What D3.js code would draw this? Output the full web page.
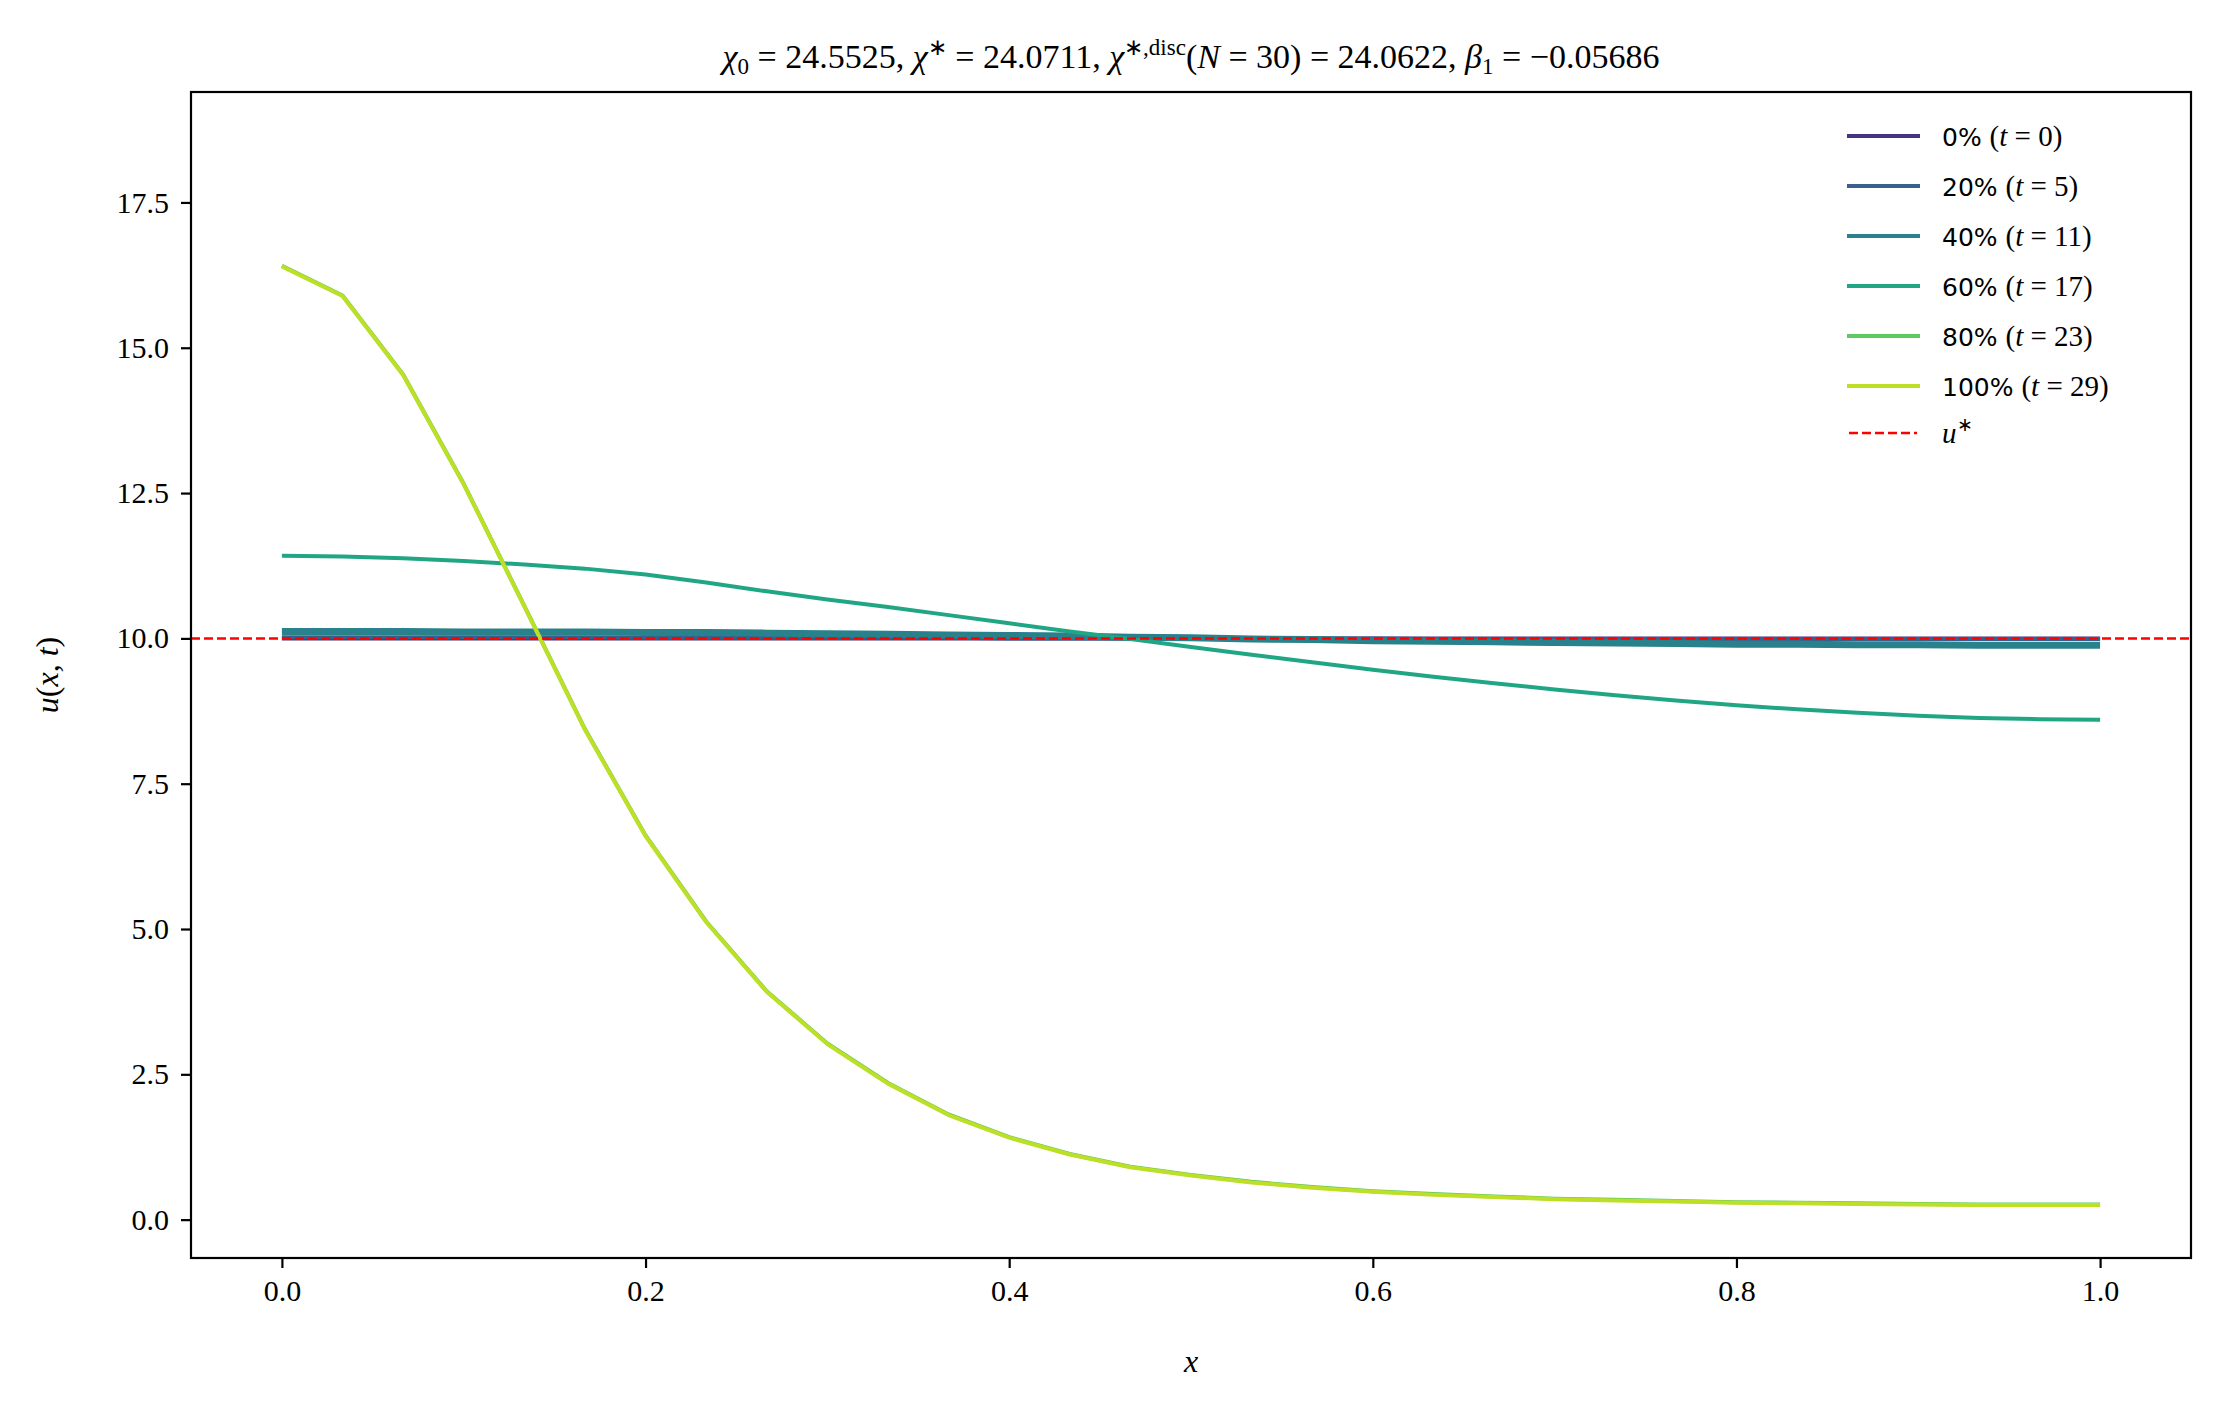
<!DOCTYPE html>
<html><head><meta charset="utf-8">
<script src="https://cdn.jsdelivr.net/npm/d3@7"></script>
<style>body{margin:0;background:#fff}text{font-family:"Liberation Serif",serif}</style>
</head><body>
<svg id="chart" width="2220" height="1409"></svg>
<script>
"use strict";

// sample points x = k/30
let xs = d3.range(31).map(k => k / 30);

let u0 = [10,10,10,10,10,10,10,10,10,10,10,10,10,10,10,10,10,10,10,10,10,10,10,10,10,10,10,10,10,10,10];
let u20 = [10.02,10.02,10.02,10.02,10.02,10.02,10.01,10.01,10.01,10.01,10.01,10.01,10.0,10.0,10.0,10.0,10.0,10.0,10.0,9.99,9.99,9.99,9.99,9.99,9.99,9.99,9.99,9.99,9.99,9.99,9.99];
let u40 = [10.12,10.12,10.12,10.11,10.11,10.11,10.10,10.10,10.09,10.08,10.07,10.06,10.05,10.04,10.02,10.01,9.99,9.98,9.96,9.95,9.94,9.93,9.92,9.91,9.90,9.90,9.89,9.89,9.88,9.88,9.88];
let u60 = [11.42,11.41,11.38,11.33,11.27,11.20,11.10,10.96,10.81,10.67,10.54,10.40,10.26,10.12,9.99,9.85,9.72,9.59,9.46,9.34,9.23,9.12,9.02,8.93,8.85,8.78,8.72,8.67,8.63,8.61,8.60];
let u100 = [16.40,15.89,14.53,12.65,10.55,8.43,6.60,5.12,3.92,3.02,2.34,1.80,1.41,1.12,0.90,0.76,0.64,0.55,0.48,0.43,0.39,0.35,0.33,0.31,0.29,0.28,0.27,0.26,0.25,0.25,0.25];
let u80 = u100.map(v => v + 0.01);

let seriesNames = ["0%", "20%", "40%", "60%", "80%", "100%"];
let seriesT = [0, 5, 11, 17, 23, 29];
let seriesVals = [u0, u20, u40, u60, u80, u100];
let colors = ["#46337f", "#38608d", "#28818b", "#21a685", "#5ec962", "#bddf26"];
let widths = [4, 4, 7, 4, 4, 4];
let uStar = 10;

let xTicks = [0, 0.2, 0.4, 0.6, 0.8, 1.0];
let yTicks = [0, 2.5, 5, 7.5, 10, 12.5, 15, 17.5];

const svg = d3.select("#chart");
const L = 191, R = 2191, T = 92, B = 1258;

let x = d3.scaleLinear().domain([-0.05, 1.05]).range([L, R]);
let y = d3.scaleLinear().domain([-0.66, 19.4]).range([B, T]);

svg.append("g").attr("transform", `translate(0,${B})`)
    .call(d3.axisBottom(x).tickValues(xTicks).tickFormat(d3.format(".1f")).tickSize(10).tickPadding(12))
    .call(g => g.selectAll("text").attr("font-size", 30).attr("font-family", "Liberation Serif"));
svg.append("g").attr("transform", `translate(${L},0)`)
    .call(d3.axisLeft(y).tickValues(yTicks).tickFormat(d3.format(".1f")).tickSize(10).tickPadding(12))
    .call(g => g.selectAll("text").attr("font-size", 30).attr("font-family", "Liberation Serif"));
svg.selectAll(".domain").remove();
svg.selectAll(".tick line").attr("stroke-width", 2.2);

svg.append("clipPath").attr("id", "clip").append("rect")
    .attr("x", L).attr("y", T).attr("width", R - L).attr("height", B - T);

let line = d3.line().x((d, i) => x(xs[i])).y(d => y(d));
let plot = svg.append("g").attr("clip-path", "url(#clip)");
seriesVals.forEach((vals, i) => {
    plot.append("path").datum(vals).attr("d", line).attr("fill", "none")
        .attr("stroke", colors[i]).attr("stroke-width", widths[i]).attr("stroke-linejoin", "round");
});
plot.append("line").attr("x1", L).attr("x2", R).attr("y1", y(uStar)).attr("y2", y(uStar))
    .attr("stroke", "#ff0000").attr("stroke-width", 2.5).attr("stroke-dasharray", "9,4");

svg.append("rect").attr("x", L).attr("y", T).attr("width", R - L).attr("height", B - T)
    .attr("fill", "none").attr("stroke", "#000").attr("stroke-width", 2.2);

// title
let title = svg.append("text").attr("x", (L + R) / 2).attr("y", 68).attr("text-anchor", "middle").attr("font-size", 34);
title.append("tspan").attr("font-style", "italic").text("χ");
title.append("tspan").attr("font-size", 23).attr("dy", 6).text("0");
title.append("tspan").attr("dy", -6).text(" = 24.5525,  ");
title.append("tspan").attr("font-style", "italic").text("χ");
title.append("tspan").attr("font-size", 23).attr("dy", -13).text("∗");
title.append("tspan").attr("dy", 13).text(" = 24.0711,  ");
title.append("tspan").attr("font-style", "italic").text("χ");
title.append("tspan").attr("font-size", 23).attr("dy", -13).text("∗,disc");
title.append("tspan").attr("dy", 13).text("(");
title.append("tspan").attr("font-style", "italic").text("N");
title.append("tspan").text(" = 30) = 24.0622,  ");
title.append("tspan").attr("font-style", "italic").text("β");
title.append("tspan").attr("font-size", 23).attr("dy", 6).text("1");
title.append("tspan").attr("dy", -6).text(" = −0.05686");

// axis labels
svg.append("text").attr("x", (L + R) / 2).attr("y", 1372).attr("text-anchor", "middle")
    .attr("font-size", 32).attr("font-style", "italic").text("x");
let yl = svg.append("text").attr("transform", `translate(58,${(T + B) / 2}) rotate(-90)`)
    .attr("text-anchor", "middle").attr("font-size", 32);
yl.append("tspan").attr("font-style", "italic").text("u");
yl.append("tspan").text("(");
yl.append("tspan").attr("font-style", "italic").text("x, t");
yl.append("tspan").text(")");

// legend
let lg = svg.append("g").attr("transform", "translate(1847,136)");
seriesNames.forEach((name, i) => {
    let g = lg.append("g").attr("transform", `translate(0,${i * 50})`);
    g.append("line").attr("x1", 0).attr("x2", 73).attr("stroke", colors[i]).attr("stroke-width", 4);
    let t = g.append("text").attr("x", 95).attr("y", 10).attr("font-size", 29);
    t.append("tspan").attr("font-family", "DejaVu Sans").attr("font-size", 25).text(name + " ");
    t.append("tspan").text("(");
    t.append("tspan").attr("font-style", "italic").text("t");
    t.append("tspan").text(" = " + seriesT[i] + ")");
});
let gs = lg.append("g").attr("transform", `translate(0,${6 * 50 - 3})`);
gs.append("line").attr("x1", 2).attr("x2", 70).attr("stroke", "#ff0000").attr("stroke-width", 2.5).attr("stroke-dasharray", "9,4");
let ts = gs.append("text").attr("x", 95).attr("y", 10).attr("font-size", 29);
ts.append("tspan").attr("font-style", "italic").text("u");
ts.append("tspan").attr("font-size", 19).attr("dy", -12).text("∗");
</script>
</body></html>
